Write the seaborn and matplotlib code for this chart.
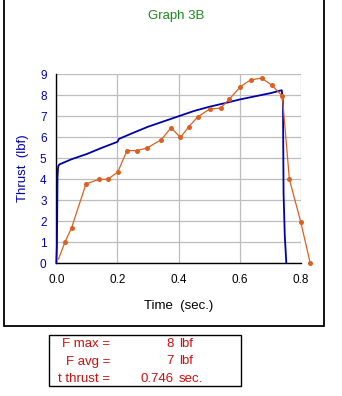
import matplotlib
matplotlib.use("Agg")
import matplotlib.pyplot as plt
from matplotlib.lines import Line2D
from matplotlib.patches import Rectangle
import seaborn as sns
import pandas as pd

# Predicted thrust curve (simulation)
sim_time = [0.0, 0.002, 0.004, 0.006, 0.01, 0.05, 0.1, 0.15, 0.2, 0.205,
            0.25, 0.3, 0.35, 0.4, 0.45, 0.5, 0.55, 0.6, 0.65, 0.7,
            0.737, 0.741, 0.743, 0.747, 0.752]
sim_thrust = [0.0, 0.8, 4.1, 4.6, 4.7, 4.95, 5.2, 5.5, 5.78, 5.92,
              6.2, 6.5, 6.75, 7.0, 7.25, 7.45, 7.62, 7.8, 7.95, 8.1,
              8.24, 7.7, 3.3, 1.3, 0.0]

# Measured thrust samples
meas_time = [0.007, 0.029, 0.05, 0.097, 0.139, 0.168, 0.201, 0.231, 0.264,
             0.296, 0.343, 0.375, 0.406, 0.433, 0.462, 0.501, 0.537, 0.566,
             0.602, 0.635, 0.671, 0.704, 0.739, 0.762, 0.799, 0.830]
meas_thrust = [0.18, 1.02, 1.68, 3.77, 3.99, 3.99, 4.34, 5.36, 5.36,
               5.48, 5.88, 6.45, 5.99, 6.5, 6.96, 7.34, 7.39, 7.82,
               8.41, 8.73, 8.82, 8.49, 7.96, 3.99, 1.97, 0.0]

x_ticks = [0.0, 0.2, 0.4, 0.6, 0.8]
x_tick_labels = ["0.0", "0.2", "0.4", "0.6", "0.8"]
y_ticks = [0, 1, 2, 3, 4, 5, 6, 7, 8, 9]

summary_labels = ["F max =", "F avg =", "t thrust ="]
summary_values = ["8", "7", "0.746"]
summary_units = ["lbf", "lbf", "sec."]

BLUE = "#0000A8"
ORANGE = "#DC6020"
RED = "#CC1010"
GREEN = "#1A8A1A"

sns.set_theme(style="white")
plt.rcParams["font.family"] = ["Liberation Sans", "DejaVu Sans"]

fig = plt.figure(figsize=(3.42, 3.96), dpi=100)
ax = fig.add_axes([56.3 / 342, 1 - 263 / 396, 244.7 / 342, 188.7 / 396])

sim_df = pd.DataFrame({"t": sim_time, "F": sim_thrust})
meas_df = pd.DataFrame({"t": meas_time, "F": meas_thrust})

sns.lineplot(data=sim_df, x="t", y="F", ax=ax, color=BLUE, lw=1.3,
             sort=False, estimator=None, zorder=3)
sns.lineplot(data=meas_df, x="t", y="F", ax=ax, color=ORANGE, lw=0.9,
             marker="o", markersize=3.6, markeredgewidth=0,
             markevery=list(range(1, len(meas_time))),
             sort=False, estimator=None, zorder=4)
for ln in ax.lines:
    ln.set_clip_on(False)

ax.set_xlim(0, 0.8)
ax.set_ylim(0, 9)
ax.set_xticks(x_ticks)
ax.set_xticklabels(x_tick_labels)
ax.set_yticks(y_ticks)
ax.grid(True, color="#BDBDBD", lw=0.9)
ax.set_axisbelow(True)

for side in ("top", "right"):
    ax.spines[side].set_visible(False)
for side in ("left", "bottom"):
    ax.spines[side].set_color("black")
    ax.spines[side].set_linewidth(1.0)

ax.tick_params(axis="both", which="major", direction="out", length=4,
               width=0.9, color="black", labelsize=8.5, pad=3)
ax.tick_params(axis="y", labelcolor=BLUE)
ax.tick_params(axis="x", labelcolor="black", pad=4)

ax.set_xlabel("Time  (sec.)", fontsize=9.5, color="black", labelpad=10)
ax.set_ylabel("Thrust  (lbf)", fontsize=9.5, color=BLUE, labelpad=8)

fig.text(176 / 342, 1 - 16 / 396, "Graph 3B", color=GREEN, fontsize=9.5,
         ha="center", va="center")

# Outer chart frame (left, right and bottom edges)
fx0, fx1, fy0 = 3.5 / 342, 324 / 342, 1 - 326 / 396
fig.add_artist(Line2D([fx0, fx0], [fy0, 1.0], color="black", lw=1.3,
                      transform=fig.transFigure))
fig.add_artist(Line2D([fx1, fx1], [fy0, 1.0], color="black", lw=1.3,
                      transform=fig.transFigure))
fig.add_artist(Line2D([fx0, fx1], [fy0, fy0], color="black", lw=1.3,
                      transform=fig.transFigure))

# Summary box
fig.add_artist(Rectangle((49 / 342, 1 - 386 / 396), 192 / 342, 51 / 396,
                         fill=False, edgecolor="black", lw=1.0,
                         transform=fig.transFigure))
rows_y = [344, 361.5, 379]
for lab, val, unit, yy in zip(summary_labels, summary_values, summary_units, rows_y):
    fy = 1 - yy / 396
    fig.text(110 / 342, fy, lab, color=RED, fontsize=9.5, ha="right", va="center")
    fig.text(174 / 342, fy, val, color=RED, fontsize=9.5, ha="right", va="center")
    fig.text(179 / 342, fy, unit, color=RED, fontsize=9.5, ha="left", va="center")

fig.savefig("out.png", dpi=100)
